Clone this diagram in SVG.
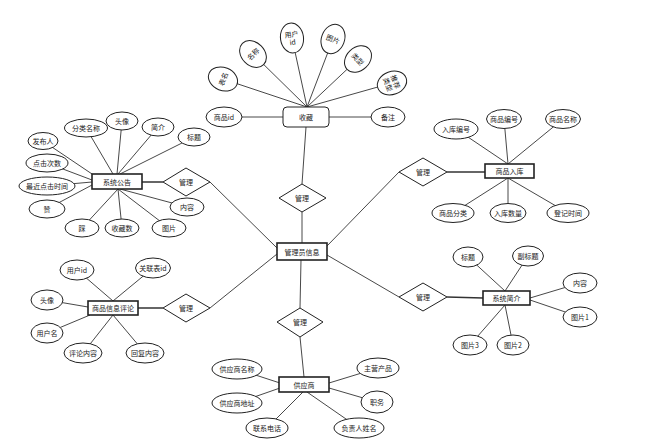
<svg xmlns="http://www.w3.org/2000/svg" width="659" height="446" viewBox="0 0 659 446">
<style>
.e{fill:#fff;stroke:#222;stroke-width:1}
.r{fill:#fff;stroke:#222;stroke-width:1.6}
.d{fill:#fff;stroke:#222;stroke-width:1}
.t{font-family:"Noto Sans CJK SC","Noto Sans",sans-serif;font-size:7px;fill:#222;text-anchor:middle;dominant-baseline:central}
#connectors line{stroke:#333;stroke-width:0.9}
#connectors line.k{stroke-width:1.5}
</style>
<rect width="659" height="446" fill="#fff"/>
<g id="connectors">
<line x1="242" y1="117" x2="283" y2="117"/>
<line x1="329" y1="117" x2="371" y2="117"/>
<line x1="223" y1="79" x2="307" y2="107"/>
<line x1="253" y1="54" x2="307" y2="107"/>
<line x1="292" y1="38" x2="307" y2="107"/>
<line x1="333" y1="39" x2="307" y2="107"/>
<line x1="358" y1="59" x2="307" y2="107"/>
<line x1="392" y1="83" x2="307" y2="107"/>
<line x1="306" y1="127" x2="302" y2="184"/>
<line x1="302" y1="212" x2="302" y2="243"/>
<line x1="301" y1="260" x2="300" y2="308"/>
<line x1="300" y1="337" x2="304" y2="377"/>
<line class="k" x1="142" y1="182" x2="163" y2="182"/>
<line x1="210" y1="182" x2="277" y2="248"/>
<line class="k" x1="138" y1="308" x2="163" y2="308"/>
<line x1="210" y1="308" x2="277" y2="254"/>
<line x1="327" y1="246" x2="399" y2="172"/>
<line class="k" x1="447" y1="172" x2="485" y2="172"/>
<line x1="327" y1="255" x2="399" y2="297"/>
<line class="k" x1="447" y1="297" x2="483" y2="298"/>
<line x1="43" y1="141" x2="95" y2="176"/>
<line x1="86" y1="128" x2="113" y2="174"/>
<line x1="122" y1="121" x2="117" y2="174"/>
<line x1="158" y1="127" x2="118" y2="174"/>
<line x1="194" y1="137" x2="120" y2="174"/>
<line x1="47" y1="163" x2="92" y2="180"/>
<line x1="47" y1="186" x2="92" y2="182"/>
<line x1="47" y1="209" x2="92" y2="185"/>
<line x1="82" y1="228" x2="118" y2="189"/>
<line x1="122" y1="228" x2="118" y2="189"/>
<line x1="169" y1="228" x2="118" y2="189"/>
<line x1="187" y1="207" x2="120" y2="189"/>
<line x1="456" y1="129" x2="508" y2="164"/>
<line x1="504" y1="119" x2="508" y2="164"/>
<line x1="563" y1="119" x2="508" y2="164"/>
<line x1="453" y1="213" x2="508" y2="178"/>
<line x1="508" y1="213" x2="508" y2="178"/>
<line x1="568" y1="213" x2="508" y2="178"/>
<line x1="77" y1="270" x2="113" y2="301"/>
<line x1="153" y1="268" x2="113" y2="301"/>
<line x1="47" y1="300" x2="88" y2="307"/>
<line x1="47" y1="333" x2="90" y2="315"/>
<line x1="83" y1="353" x2="113" y2="315"/>
<line x1="145" y1="353" x2="113" y2="315"/>
<line x1="468" y1="257" x2="505" y2="291"/>
<line x1="528" y1="256" x2="505" y2="291"/>
<line x1="580" y1="283" x2="530" y2="298"/>
<line x1="580" y1="317" x2="530" y2="300"/>
<line x1="470" y1="345" x2="505" y2="305"/>
<line x1="513" y1="345" x2="505" y2="305"/>
<line x1="237" y1="369" x2="280" y2="383"/>
<line x1="237" y1="403" x2="280" y2="388"/>
<line x1="267" y1="428" x2="303" y2="392"/>
<line x1="378" y1="368" x2="329" y2="383"/>
<line x1="377" y1="402" x2="329" y2="388"/>
<line x1="359" y1="428" x2="307" y2="392"/>
</g>

<g id="shoucang"><rect x="283" y="107" width="46" height="20" rx="4" fill="#fff" stroke="#222" stroke-width="1"/><text class="t" x="306" y="117">收藏</text></g>
<g id="sc_spid"><ellipse class="e" cx="224" cy="117" rx="18" ry="10"/><text class="t" x="224" y="117">商品id</text></g>
<g id="sc_beizhu"><ellipse class="e" cx="388" cy="117" rx="17" ry="10"/><text class="t" x="388" y="117">备注</text></g>
<g id="sc_biaoming" transform="translate(223,79) rotate(-68)"><ellipse class="e" rx="11.5" ry="15"/><text class="t" x="0" y="0">表名</text></g>
<g id="sc_mingcheng" transform="translate(253,54) rotate(-45)"><ellipse class="e" rx="11.5" ry="15"/><text class="t" x="0" y="0">名称</text></g>
<g id="sc_yonghuid" transform="translate(292,38) rotate(-8)"><ellipse class="e" rx="11.5" ry="15"/><text class="t" x="0" y="-4">用户</text><text class="t" x="0" y="4">id</text></g>
<g id="sc_tupian" transform="translate(333,39) rotate(21)"><ellipse class="e" rx="11.5" ry="15"/><text class="t" x="0" y="0">图片</text></g>
<g id="sc_leixing" transform="translate(358,59) rotate(47)"><ellipse class="e" rx="11.5" ry="15"/><text class="t" x="0" y="0">类型</text></g>
<g id="sc_tuijian" transform="translate(392,83) rotate(70)"><ellipse class="e" rx="11.5" ry="15"/><text class="t" x="0" y="-4">推荐</text><text class="t" x="0" y="4">类型</text></g>

<g id="guanliyuan"><rect class="r" x="277" y="243" width="50" height="17"/><text class="t" x="302" y="251.5">管理员信息</text></g>
<g id="dia_top"><polygon class="d" points="302,184 326,198 302,212 279,198"/><text class="t" x="302" y="198">管理</text></g>
<g id="dia_bottom"><polygon class="d" points="300,308 323,322 300,337 277,322"/><text class="t" x="300" y="322">管理</text></g>
<g id="dia_lt"><polygon class="d" points="186,168 210,182 186,196 163,182"/><text class="t" x="186" y="182">管理</text></g>
<g id="dia_lb"><polygon class="d" points="186,294 210,308 186,322 163,308"/><text class="t" x="186" y="308">管理</text></g>
<g id="dia_rt"><polygon class="d" points="423,158 447,172 423,186 399,172"/><text class="t" x="423" y="172">管理</text></g>
<g id="dia_rb"><polygon class="d" points="423,283 447,297 423,311 399,297"/><text class="t" x="423" y="297">管理</text></g>

<g id="xitonggonggao"><rect class="r" x="92" y="174" width="50" height="15"/><text class="t" x="117" y="181.5">系统公告</text></g>
<g id="gg_fabuim"><ellipse class="e" cx="43" cy="141" rx="15" ry="8.5"/><text class="t" x="43" y="141">发布人</text></g>
<g id="gg_fenlei"><ellipse class="e" cx="86" cy="128" rx="21.5" ry="9"/><text class="t" x="86" y="128">分类名称</text></g>
<g id="gg_touxiang"><ellipse class="e" cx="122" cy="121" rx="16" ry="9"/><text class="t" x="122" y="121">头像</text></g>
<g id="gg_jianjie"><ellipse class="e" cx="158" cy="127" rx="16" ry="9"/><text class="t" x="158" y="127">简介</text></g>
<g id="gg_biaoti"><ellipse class="e" cx="194" cy="137" rx="16" ry="9"/><text class="t" x="194" y="137">标题</text></g>
<g id="gg_dianji"><ellipse class="e" cx="47" cy="163" rx="21" ry="9"/><text class="t" x="47" y="163">点击次数</text></g>
<g id="gg_zuijin"><ellipse class="e" cx="47" cy="186" rx="28" ry="9"/><text class="t" x="47" y="186">最近点击时间</text></g>
<g id="gg_zan"><ellipse class="e" cx="47" cy="209" rx="18" ry="9"/><text class="t" x="47" y="209">赞</text></g>
<g id="gg_cai"><ellipse class="e" cx="82" cy="228" rx="17" ry="9"/><text class="t" x="82" y="228">踩</text></g>
<g id="gg_shoucangshu"><ellipse class="e" cx="122" cy="228" rx="17" ry="9"/><text class="t" x="122" y="228">收藏数</text></g>
<g id="gg_tupian"><ellipse class="e" cx="169" cy="228" rx="17" ry="9"/><text class="t" x="169" y="228">图片</text></g>
<g id="gg_neirong"><ellipse class="e" cx="187" cy="207" rx="17" ry="9"/><text class="t" x="187" y="207">内容</text></g>

<g id="shangpinruku"><rect class="r" x="485" y="164" width="49" height="14"/><text class="t" x="509.5" y="171">商品入库</text></g>
<g id="rk_bianhao"><ellipse class="e" cx="456" cy="129" rx="22" ry="10"/><text class="t" x="456" y="129">入库编号</text></g>
<g id="rk_spbianhao"><ellipse class="e" cx="504" cy="119" rx="17.5" ry="9.5"/><text class="t" x="504" y="119">商品编号</text></g>
<g id="rk_spmingcheng"><ellipse class="e" cx="563" cy="119" rx="17.5" ry="9.5"/><text class="t" x="563" y="119">商品名称</text></g>
<g id="rk_fenlei"><ellipse class="e" cx="453" cy="213" rx="21" ry="9.5"/><text class="t" x="453" y="213">商品分类</text></g>
<g id="rk_shuliang"><ellipse class="e" cx="508" cy="213" rx="18" ry="9.5"/><text class="t" x="508" y="213">入库数量</text></g>
<g id="rk_shijian"><ellipse class="e" cx="568" cy="213" rx="21" ry="9.5"/><text class="t" x="568" y="213">登记时间</text></g>

<g id="pinglun"><rect class="r" x="88" y="301" width="50" height="14"/><text class="t" x="113" y="308">商品信息评论</text></g>
<g id="pl_yonghuid"><ellipse class="e" cx="77" cy="270" rx="17" ry="10"/><text class="t" x="77" y="270">用户id</text></g>
<g id="pl_guanlian"><ellipse class="e" cx="153" cy="268" rx="17.5" ry="10"/><text class="t" x="153" y="268">关联表id</text></g>
<g id="pl_touxiang"><ellipse class="e" cx="47" cy="300" rx="16" ry="10"/><text class="t" x="47" y="300">头像</text></g>
<g id="pl_yonghuming"><ellipse class="e" cx="47" cy="333" rx="16" ry="10"/><text class="t" x="47" y="333">用户名</text></g>
<g id="pl_pinglun"><ellipse class="e" cx="83" cy="353" rx="19" ry="10"/><text class="t" x="83" y="353">评论内容</text></g>
<g id="pl_huifu"><ellipse class="e" cx="145" cy="353" rx="19" ry="10"/><text class="t" x="145" y="353">回复内容</text></g>

<g id="xitongjianjie"><rect class="r" x="483" y="291" width="47" height="14"/><text class="t" x="506.5" y="298">系统简介</text></g>
<g id="jj_biaoti"><ellipse class="e" cx="468" cy="257" rx="15" ry="10"/><text class="t" x="468" y="257">标题</text></g>
<g id="jj_fubiaoti"><ellipse class="e" cx="528" cy="256" rx="15.5" ry="10"/><text class="t" x="528" y="256">副标题</text></g>
<g id="jj_neirong"><ellipse class="e" cx="580" cy="283" rx="17" ry="10"/><text class="t" x="580" y="283">内容</text></g>
<g id="jj_tupian1"><ellipse class="e" cx="580" cy="317" rx="17" ry="10"/><text class="t" x="580" y="317">图片1</text></g>
<g id="jj_tupian3"><ellipse class="e" cx="470" cy="345" rx="17" ry="10"/><text class="t" x="470" y="345">图片3</text></g>
<g id="jj_tupian2"><ellipse class="e" cx="513" cy="345" rx="16" ry="10"/><text class="t" x="513" y="345">图片2</text></g>

<g id="gongyingshang"><rect class="r" x="279" y="377" width="50" height="15"/><text class="t" x="304" y="384.5">供应商</text></g>
<g id="gy_mingcheng"><ellipse class="e" cx="237" cy="369" rx="25" ry="10"/><text class="t" x="237" y="369">供应商名称</text></g>
<g id="gy_dizhi"><ellipse class="e" cx="237" cy="403" rx="25" ry="10"/><text class="t" x="237" y="403">供应商地址</text></g>
<g id="gy_dianhua"><ellipse class="e" cx="267" cy="428" rx="21" ry="10"/><text class="t" x="267" y="428">联系电话</text></g>
<g id="gy_zhuying"><ellipse class="e" cx="378" cy="368" rx="21" ry="10"/><text class="t" x="378" y="368">主营产品</text></g>
<g id="gy_zhiwu"><ellipse class="e" cx="377" cy="402" rx="16" ry="11"/><text class="t" x="377" y="402">职务</text></g>
<g id="gy_fuzeren"><ellipse class="e" cx="359" cy="428" rx="25" ry="10"/><text class="t" x="359" y="428">负责人姓名</text></g>
</svg>
